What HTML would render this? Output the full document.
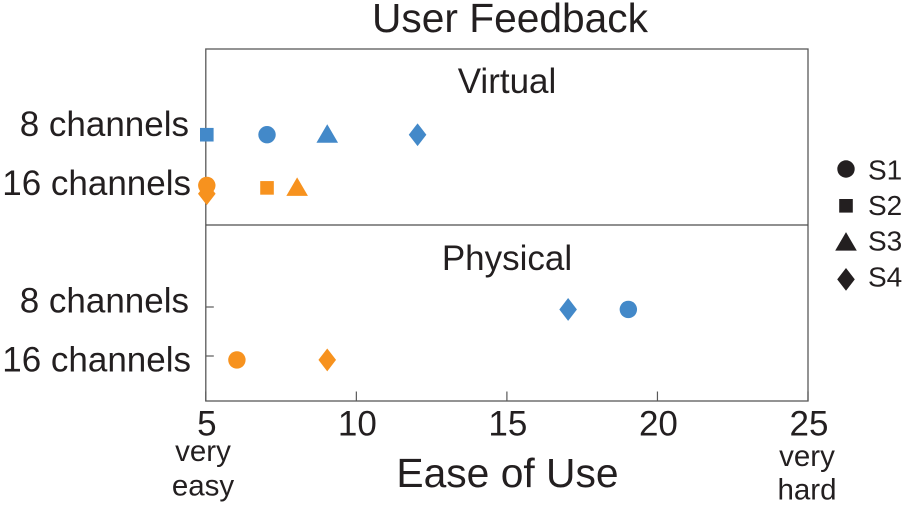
<!DOCTYPE html>
<html>
<head>
<meta charset="utf-8">
<title>User Feedback</title>
<style>
html,body{margin:0;padding:0;background:#fff;width:905px;height:506px;overflow:hidden}
svg{display:block}
text{font-family:"Liberation Sans",sans-serif;fill:#231f20}
</style>
</head>
<body>
<svg id="chart" width="905" height="506" viewBox="0 0 905 506" xmlns="http://www.w3.org/2000/svg">
<text x="510" y="32" font-size="40.7" text-anchor="middle">User Feedback</text>
<text x="507" y="93" font-size="35" text-anchor="middle">Virtual</text>
<text x="507" y="270" font-size="35" text-anchor="middle">Physical</text>
<text x="507.5" y="487" font-size="40.8" text-anchor="middle">Ease of Use</text>
<text x="203" y="461" font-size="29.5" text-anchor="middle">very</text>
<text x="203" y="495.5" font-size="29.5" text-anchor="middle">easy</text>
<text x="807" y="466" font-size="29.5" text-anchor="middle">very</text>
<text x="807" y="499.5" font-size="29.5" text-anchor="middle">hard</text>
<g id="axes"></g>
<g id="marks"></g>
<g id="legend"></g>
</svg>
<script>
const subjects = ['S1', 'S2', 'S3', 'S4'];
const xTicks = [5, 10, 15, 20, 25];
const rowLabels = ['8 channels', '16 channels'];
const rowValues = [1, 0];

const virtual8Ease = [7, 5, 9, 12];
const virtual8Row = [0.965, 0.965, 0.965, 0.965];
const virtual16Ease = [5, 7, 8, 5];
const virtual16Row = [-0.07, -0.12, -0.12, -0.24];
const physical8Ease = [19, null, null, 17];
const physical8Row = [0.95, null, null, 0.95];
const physical16Ease = [6, null, null, 9];
const physical16Row = [-0.08, null, null, -0.08];

const NS = 'http://www.w3.org/2000/svg';
const BLUE = '#4389c9', ORANGE = '#f7921e', INK = '#231f20', AXIS = '#595959';
const L = 205.8, R = 808, T = 49, B = 401, DIV = 225;
const MARK_SHIFT = 1;
const x = v => L + (v - 5) * (R - L) / 20;
const yVirtual = v => 182 - v * 49;
const yPhysical = v => 356 - v * 49;

function make(tag, attrs, parent) {
  const el = document.createElementNS(NS, tag);
  for (const k in attrs) el.setAttribute(k, attrs[k]);
  parent.appendChild(el);
  return el;
}

function marker(shape, cx, cy, color, parent) {
  if (shape === 'S1') return make('circle', {cx: cx, cy: cy, r: 8.7, fill: color}, parent);
  if (shape === 'S2') return make('rect', {x: cx - 6.8, y: cy - 6.8, width: 13.6, height: 13.6, fill: color}, parent);
  if (shape === 'S3') return make('polygon', {points: `${cx},${cy - 10.5} ${cx + 10.8},${cy + 8} ${cx - 10.8},${cy + 8}`, fill: color}, parent);
  return make('polygon', {points: `${cx},${cy - 11.4} ${cx + 8.8},${cy} ${cx},${cy + 11.4} ${cx - 8.8},${cy}`, fill: color}, parent);
}

const axes = document.getElementById('axes');
const frame = make('rect', {x: L, y: T, width: R - L, height: B - T, fill: 'none', stroke: AXIS, 'stroke-width': 1.3}, axes);


const divider = make('line', {x1: L, x2: R, y1: DIV, y2: DIV, stroke: '#4d4d4d', 'stroke-width': 1.2}, axes);



xTicks.forEach(t => {
  const tick = make('line', {x1: x(t), x2: x(t), y1: B - 9.5, y2: B, stroke: AXIS, 'stroke-width': 1.2}, axes);
  
  
  const label = make('text', {x: x(t) + 1, y: 435.5, 'font-size': 35, 'text-anchor': 'middle'}, axes);
  label.textContent = t;
  
  
});

rowLabels.forEach((name, i) => {
  const v = rowValues[i];
  const tick = make('line', {x1: L, x2: L + 8, y1: yPhysical(v), y2: yPhysical(v), stroke: AXIS, 'stroke-width': 1.2}, axes);
  
  
  const a = make('text', {x: 189 + i * 2, y: 136 + i * 59, 'font-size': 35, 'text-anchor': 'end'}, axes);
  a.textContent = name;
  
  
  const b = make('text', {x: 189 + i * 2, y: 312.5 + i * 59, 'font-size': 35, 'text-anchor': 'end'}, axes);
  b.textContent = name;
  
  
});

const marks = document.getElementById('marks');
function drawSeries(ease, rows, yFn, color, prefix) {
  subjects.forEach((s, i) => {
    if (ease[i] === null) return;
    const m = marker(s, x(ease[i]) + MARK_SHIFT, yFn(rows[i]), color, marks);
    
    
  });
}
drawSeries(virtual16Ease, virtual16Row, yVirtual, ORANGE, 'virtual-16-channels');
drawSeries(virtual8Ease, virtual8Row, yVirtual, BLUE, 'virtual-8-channels');
drawSeries(physical8Ease, physical8Row, yPhysical, BLUE, 'physical-8-channels');
drawSeries(physical16Ease, physical16Row, yPhysical, ORANGE, 'physical-16-channels');

const legend = document.getElementById('legend');
subjects.forEach((s, i) => {
  const m = marker(s, 846, 169 + i * 36.8, INK, legend);
  
  
  const t = make('text', {x: 868, y: 179.5 + i * 35.6, 'font-size': 28}, legend);
  t.textContent = s;
  
  
});
</script>
</body>
</html>
